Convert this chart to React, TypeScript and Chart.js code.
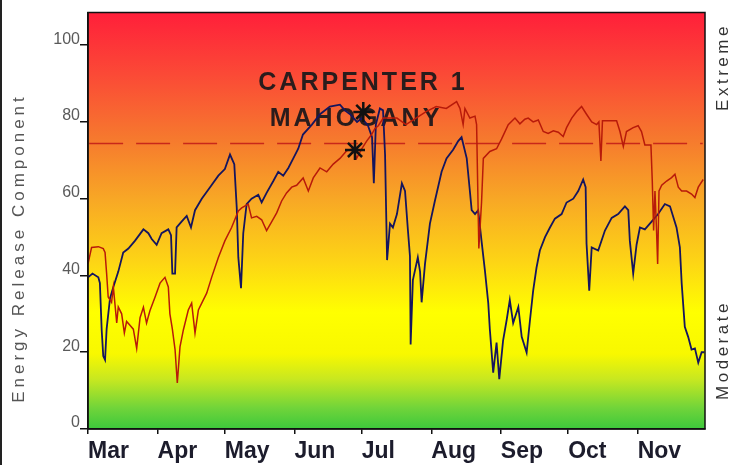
import React, { useEffect, useRef } from 'react';
import { Chart, registerables } from 'chart.js';

Chart.register(...registerables);

// ---- Data ----
const monthTicks = [0, 31, 61, 92, 122, 153, 184, 214, 245]; // days since Mar 1
const monthLabels = ['Mar', 'Apr', 'May', 'Jun', 'Jul', 'Aug', 'Sep', 'Oct', 'Nov'];
const yTicks = [0, 20, 40, 60, 80, 100];

const blueDays = [0, 2, 4.6, 5.3, 6.1, 6.8, 7.6, 8.3, 9.8, 11.3, 13.5, 15.7, 18, 20.9, 24.7, 26.9, 28.4, 30.6, 32.8, 35.8, 37, 37.6, 38.8, 39.5, 41.7, 44, 45.9, 47.7, 50.7, 54.4, 58.1, 61, 63.3, 65.2, 66.3, 67, 68.2, 69.2, 70.7, 72.9, 75.9, 77.4, 79.6, 82.6, 84.8, 87, 89.3, 91.5, 93.7, 95.8, 99.8, 103.4, 107.8, 112.3, 114.5, 116.8, 119.9, 122.1, 124.8, 126.6, 127.4, 128.3, 130.1, 131.5, 132.4, 133.3, 134.6, 135.9, 137.7, 139.9, 141.3, 142.6, 143.5, 143.8, 144.8, 147, 148, 148.7, 150.2, 152.4, 154.6, 157.6, 159.8, 162.8, 165, 166.5, 168.8, 170.2, 171, 172.5, 173.9, 175.4, 176.9, 178.4, 179.1, 180.6, 182.1, 183.3, 185, 186.6, 188, 189.5, 191.8, 193.3, 195.5, 197, 198.4, 199.9, 201.4, 203.7, 205.9, 208.1, 211.1, 213.3, 216.3, 218.5, 220.7, 221.8, 222.2, 223.4, 224.5, 227.4, 230.4, 233.4, 236.3, 239.3, 240.8, 241.5, 243, 244.5, 246, 248.2, 251.2, 254.1, 257.1, 259.4, 262.3, 263.8, 264.6, 266, 267.5, 269, 270.5, 272, 273.5, 274.7];
const blueValues = [39.5, 40.5, 39.5, 38, 25.8, 19, 18, 26, 34, 37, 41, 46, 47, 49, 52, 51, 49.5, 48, 51, 52, 50.5, 40.5, 40.5, 52.5, 54, 55.5, 52.5, 57, 60, 63, 66, 67.7, 71.5, 69, 57.6, 44.7, 36.7, 51, 58.6, 60, 61, 59, 61.5, 64.6, 67, 66, 68, 70.5, 73, 76.7, 79.3, 82, 84, 84.5, 83, 82, 80, 81, 79, 76, 64, 79.3, 83.5, 83, 71.5, 44, 53.5, 52.5, 56, 64, 62, 51.7, 45, 22, 38.8, 44.7, 41, 33, 43, 53.5, 59.4, 67, 70.5, 72.8, 75, 76, 70.5, 62, 57, 56, 57, 49, 41.3, 32.8, 26, 14.7, 22.5, 13, 23, 28.4, 33.6, 27.6, 31.8, 24, 19.9, 28.4, 36, 42, 46.5, 50, 52.5, 54.8, 56, 59, 60, 62, 65, 63, 48.3, 36, 47.3, 46.5, 51.7, 55, 56, 58, 57, 49, 40.5, 48, 52.5, 52, 54, 56, 58.6, 58, 52.5, 47.3, 38, 26.6, 24, 20.7, 21, 17.3, 20, 20];

const redDays = [0, 1.6, 4.6, 6.8, 7.6, 8.3, 9, 10.5, 11.3, 12.8, 13.5, 15, 16.2, 17.2, 18.7, 20.2, 21.7, 23.2, 24.7, 26.1, 27.6, 29.9, 32.1, 34.3, 35.8, 36.5, 37.6, 38.8, 39.8, 41, 42.5, 44.7, 46.2, 47.7, 49.2, 50.7, 52.9, 55.1, 58.1, 61, 64, 67, 68.5, 71.4, 72.9, 75.2, 77.4, 79.6, 81.9, 84.1, 86.3, 88.5, 90.8, 93, 95.9, 98.2, 100.4, 103.4, 106.4, 109.3, 112.3, 115.3, 118.2, 119.7, 122, 124.2, 126.4, 127.9, 129.4, 131.6, 137.7, 141.7, 146.2, 150.7, 155.2, 159.7, 164.3, 165.8, 167.2, 168, 170.2, 172.5, 173.2, 174.2, 175.4, 176.2, 179.1, 182.1, 184.3, 187.3, 190.3, 192.5, 194.7, 196.2, 198.4, 200.7, 202.9, 205.1, 207.4, 209.6, 211.8, 213.3, 215.6, 217.8, 220, 222.2, 224.5, 226.7, 227.7, 228.6, 229.3, 235.6, 237.1, 238.6, 240, 243, 245.2, 246.7, 248.2, 250.9, 251.5, 252.1, 252.7, 253.4, 253.9, 254.5, 255.7, 257.9, 260.1, 261.6, 263.1, 264.6, 266.8, 269, 270.5, 272, 274.2];
const redValues = [43, 47.3, 47.5, 47, 46, 40.5, 34.4, 33, 37, 27.6, 31.8, 30, 25, 28, 27, 26, 21, 29, 31.7, 27.6, 30.8, 34.4, 38, 39.5, 37, 30, 26, 20.7, 12, 21.4, 25.8, 31, 32.8, 25, 31, 32.8, 35.4, 39.5, 44.7, 49, 52.5, 56.8, 57.6, 58.6, 55, 55.4, 54.5, 51.7, 54, 56.3, 59.4, 61.5, 63, 63.5, 65.4, 62, 65.4, 68, 67, 69, 70.5, 72.5, 73, 70.5, 73, 75, 76.7, 78.3, 79, 81, 81, 79.3, 81, 82.7, 84, 83.5, 85.3, 83.5, 79.3, 83.5, 81, 81.5, 79.3, 47, 59, 70.5, 72.3, 73, 75.5, 79.3, 81, 79.5, 80.7, 81, 80, 80.5, 77.5, 77, 77.7, 77.3, 76.2, 78.5, 81, 82.7, 84, 82, 80, 79.3, 80, 69.8, 80.3, 80.3, 77.5, 73.6, 77.5, 78.5, 79, 77.5, 74, 74, 64.6, 51.7, 62, 51.7, 43, 62, 63.5, 64.6, 65.5, 66.4, 63, 62, 62, 61.2, 60.3, 63, 65];

const thresholdValue = 74.4;
const thresholdDays = [0.5, 274];
const starDays = [122.7, 119];
const starValues = [82.6, 72.7];

const titleLines = ['CARPENTER 1', 'MAHOGANY'];
const yAxisTitle = 'Energy Release Component';
const topRightLabel = 'Extreme';
const bottomRightLabel = 'Moderate';

const FONT = "'Liberation Sans', Arial, sans-serif";

const toPoints = (xs: number[], ys: number[]) => xs.map((x, i) => ({ x, y: ys[i] }));

const decorPlugin = {
  id: 'decor',
  beforeDraw(chart: any) {
    const { ctx, chartArea } = chart;
    const { left, top, right, bottom } = chartArea;
    ctx.save();
    ctx.fillStyle = '#ffffff';
    ctx.fillRect(0, 0, chart.width, chart.height);
    ctx.fillStyle = '#222222';
    ctx.fillRect(0, 0, 2, chart.height);
    const g = ctx.createLinearGradient(0, top, 0, bottom);
    g.addColorStop(0, '#ff1f3a');
    g.addColorStop(0.15, '#fb4a36');
    g.addColorStop(0.3, '#f6782e');
    g.addColorStop(0.45, '#f8a825');
    g.addColorStop(0.6, '#fdd515');
    g.addColorStop(0.72, '#ffff00');
    g.addColorStop(0.82, '#f8f800');
    g.addColorStop(0.88, '#c8e820');
    g.addColorStop(0.95, '#70d43a');
    g.addColorStop(1, '#3cc83c');
    ctx.fillStyle = g;
    ctx.fillRect(left, top, right - left, bottom - top);
    ctx.restore();
  },
  beforeDatasetsDraw(chart: any) {
    const { ctx } = chart;
    ctx.save();
    ctx.fillStyle = '#2a1c1c';
    ctx.font = `bold 25px ${FONT}`;
    (ctx as any).letterSpacing = '3px';
    ctx.textAlign = 'center';
    ctx.textBaseline = 'middle';
    ctx.fillText(titleLines[0], 363, 83);
    ctx.fillText(titleLines[1], 356, 119);
    ctx.restore();
  },
  afterDraw(chart: any) {
    const { ctx, chartArea } = chart;
    const { left, top, right, bottom } = chartArea;
    ctx.save();
    ctx.strokeStyle = '#111';
    ctx.lineWidth = 1.5;
    ctx.strokeRect(left, top, right - left, bottom - top);

    ctx.textAlign = 'center';
    ctx.textBaseline = 'middle';
    ctx.font = `17px ${FONT}`;
    (ctx as any).letterSpacing = '4px';
    ctx.fillStyle = '#555555';
    ctx.save();
    ctx.translate(19, 248);
    ctx.rotate(-Math.PI / 2);
    ctx.fillText(yAxisTitle, 0, 0);
    ctx.restore();

    (ctx as any).letterSpacing = '3.5px';
    ctx.fillStyle = '#333333';
    ctx.save();
    ctx.translate(723, 67);
    ctx.rotate(-Math.PI / 2);
    ctx.fillText(topRightLabel, 0, 0);
    ctx.restore();
    ctx.save();
    ctx.translate(723, 350);
    ctx.rotate(-Math.PI / 2);
    ctx.fillText(bottomRightLabel, 0, 0);
    ctx.restore();
    ctx.restore();
  },
};

export default function App() {
  const canvasRef = useRef<HTMLCanvasElement | null>(null);

  useEffect(() => {
    if (!canvasRef.current) return;
    const chart = new Chart(canvasRef.current, {
      type: 'line',
      data: {
        datasets: [
          {
            label: 'stars',
            data: toPoints(starDays, starValues),
            showLine: false,
            pointStyle: 'star',
            pointRadius: 10,
            pointBorderWidth: 2.5,
            pointBorderColor: '#111111',
            pointBackgroundColor: '#111111',
            borderColor: '#111111',
          },
          {
            label: 'red',
            data: toPoints(redDays, redValues),
            borderColor: '#b81a0a',
            borderWidth: 1.5,
            pointRadius: 0,
            tension: 0,
          },
          {
            label: 'blue',
            data: toPoints(blueDays, blueValues),
            borderColor: '#15155e',
            borderWidth: 1.8,
            pointRadius: 0,
            tension: 0,
          },
          {
            label: 'threshold',
            data: thresholdDays.map((x) => ({ x, y: thresholdValue })),
            borderColor: '#c8281a',
            borderWidth: 1.5,
            borderDash: [34, 13],
            pointRadius: 0,
          },
        ],
      },
      options: {
        animation: false,
        responsive: false,
        devicePixelRatio: 1,
        layout: { padding: { left: 0, right: 30, top: 10, bottom: 0 } },
        plugins: { legend: { display: false }, tooltip: { enabled: false } },
        scales: {
          x: {
            type: 'linear',
            min: 0,
            max: 275,
            afterBuildTicks: (s: any) => {
              s.ticks = monthTicks.map((v) => ({ value: v }));
            },
            afterFit: (s: any) => {
              s.height = 36;
            },
            grid: { display: true, drawOnChartArea: false, drawTicks: true, tickLength: 5, color: '#111', lineWidth: 1.5 },
            border: { display: true, color: '#111', width: 1.5 },
            ticks: {
              align: 'start',
              padding: 4,
              maxRotation: 0,
              autoSkip: false,
              color: '#1c1c2c',
              font: { family: FONT, size: 23, weight: 'bold' },
              callback: (v: any) => {
                const i = monthTicks.indexOf(Number(v));
                return i >= 0 ? monthLabels[i] : '';
              },
            },
          },
          y: {
            type: 'linear',
            min: 0,
            max: 108.5,
            afterBuildTicks: (s: any) => {
              s.ticks = yTicks.map((v) => ({ value: v }));
            },
            afterFit: (s: any) => {
              s.width = 88;
            },
            grid: { display: true, drawOnChartArea: false, drawTicks: true, tickLength: 8, color: '#111', lineWidth: 1.5 },
            border: { display: true, color: '#111', width: 1.5 },
            ticks: {
              padding: 0,
              labelOffset: -6,
              color: '#5a5a5a',
              font: { family: FONT, size: 16 },
              autoSkip: false,
            },
          },
        },
      },
      plugins: [decorPlugin],
    } as any);
    return () => chart.destroy();
  }, []);

  return (
    <div style={{ position: 'fixed', left: 0, top: 0, width: 735, height: 465, background: '#fff' }}>
      <canvas ref={canvasRef} width={735} height={465} style={{ display: 'block', width: 735, height: 465 }} />
    </div>
  );
}
